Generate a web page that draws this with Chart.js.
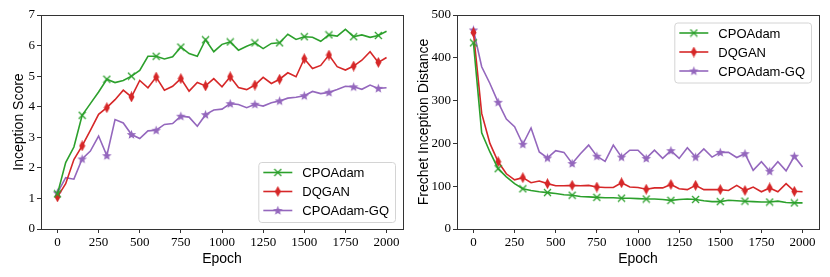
<!DOCTYPE html>
<html>
<head>
<meta charset="utf-8">
<script src="https://cdn.jsdelivr.net/npm/chart.js@4.4.0/dist/chart.umd.min.js"></script>
<style>
  body { margin: 0; background: #fff; }
  #wrap { position: relative; width: 830px; height: 277px; }
  .box { position: absolute; top: 0; width: 415px; height: 277px; }
</style>
</head>
<body>
<div id="wrap">
  <div class="box" style="left:0"><canvas id="isChart" width="415" height="277"></canvas></div>
  <div class="box" style="left:415px"><canvas id="fidChart" width="415" height="277"></canvas></div>
</div>
<script>
// --- datos ---
const epochs = [0, 50, 100, 150, 200, 250, 300, 350, 400, 450, 500, 550, 600, 650, 700, 750, 800, 850, 900, 950,
  1000, 1050, 1100, 1150, 1200, 1250, 1300, 1350, 1400, 1450, 1500, 1550, 1600, 1650, 1700, 1750, 1800, 1850, 1900, 1950, 2000];
const xTicks = [0, 250, 500, 750, 1000, 1250, 1500, 1750, 2000];
const isTicks = [0, 1, 2, 3, 4, 5, 6, 7];
const fidTicks = [0, 100, 200, 300, 400, 500];
const seriesNames = ['CPOAdam', 'DQGAN', 'CPOAdam-GQ'];

// Inception Score
const isCPOAdam = [1.15, 2.17, 2.68, 3.72, 4.1, 4.48, 4.9, 4.79, 4.86, 5.0, 5.19, 5.65, 5.65, 5.56, 5.63, 5.95, 5.74, 5.65, 6.19, 5.8,
  6.04, 6.12, 5.85, 5.98, 6.09, 5.9, 6.07, 6.09, 6.37, 6.2, 6.29, 6.27, 6.14, 6.35, 6.31, 6.53, 6.29, 6.35, 6.27, 6.33, 6.47];
const isDQGAN = [1.05, 1.48, 2.27, 2.72, 3.23, 3.75, 3.97, 4.23, 4.54, 4.32, 4.86, 4.62, 4.97, 4.54, 4.67, 4.92, 4.51, 4.79, 4.68, 4.92,
  4.65, 4.98, 4.63, 4.56, 4.71, 4.96, 4.76, 4.9, 5.11, 4.98, 5.57, 5.25, 5.35, 5.69, 5.31, 5.2, 5.33, 5.52, 5.8, 5.45, 5.61];
const isCPOAdamGQ = [1.18, 1.68, 1.63, 2.29, 2.55, 3.04, 2.4, 3.58, 3.47, 3.09, 2.96, 3.21, 3.23, 3.42, 3.45, 3.69, 3.66, 3.36, 3.74, 3.89,
  3.92, 4.1, 4.07, 3.97, 4.08, 4.02, 4.13, 4.19, 4.28, 4.31, 4.36, 4.5, 4.43, 4.47, 4.56, 4.67, 4.65, 4.57, 4.71, 4.6, 4.62];

// Frechet Inception Distance
const fidCPOAdam = [435, 225, 180, 141, 122, 106, 94, 90, 87, 85, 83, 80, 79, 76, 75, 74, 73, 73, 72, 72,
  71, 70, 70, 69, 67, 69, 70, 69, 66, 64, 64, 67, 66, 65, 64, 63, 63, 65, 62, 61, 61];
const fidDQGAN = [459, 270, 200, 157, 129, 115, 120, 108, 112, 106, 101, 101, 102, 101, 102, 98, 97, 97, 108, 98,
  97, 93, 96, 96, 104, 94, 92, 102, 92, 92, 92, 90, 102, 90, 98, 87, 96, 87, 106, 88, 87];
const fidCPOAdamGQ = [465, 379, 340, 296, 257, 239, 198, 236, 180, 166, 183, 179, 153, 176, 196, 170, 158, 196, 168, 184,
  184, 165, 184, 165, 183, 165, 190, 168, 187, 168, 179, 179, 167, 176, 137, 157, 135, 157, 136, 170, 145];

const colors = ['#2ca02c', '#d62728', '#9467bd'];

// --- marcadores ---
function markerCross(color) {
  const c = document.createElement('canvas'); c.width = 9; c.height = 9;
  const g = c.getContext('2d');
  g.strokeStyle = color; g.lineWidth = 1.3;
  g.beginPath(); g.moveTo(1, 1); g.lineTo(8, 8); g.moveTo(8, 1); g.lineTo(1, 8); g.stroke();
  return c;
}
function markerDiamond(color) {
  const c = document.createElement('canvas'); c.width = 7; c.height = 11;
  const g = c.getContext('2d');
  g.fillStyle = color;
  g.beginPath(); g.moveTo(3.5, 0); g.lineTo(6.5, 5.5); g.lineTo(3.5, 11); g.lineTo(0.5, 5.5); g.closePath(); g.fill();
  return c;
}
function markerStar(color) {
  const c = document.createElement('canvas'); c.width = 11; c.height = 11;
  const g = c.getContext('2d');
  g.fillStyle = color;
  g.beginPath();
  for (let i = 0; i < 10; i++) {
    const r = i % 2 === 0 ? 5 : 2.1;
    const a = -Math.PI / 2 + i * Math.PI / 5;
    const px = 5.5 + r * Math.cos(a), py = 5.8 + r * Math.sin(a);
    if (i === 0) g.moveTo(px, py); else g.lineTo(px, py);
  }
  g.closePath(); g.fill();
  return c;
}
const markers = [markerCross(colors[0]), markerDiamond(colors[1]), markerStar(colors[2])];

function makeDataset(i, values) {
  return {
    label: seriesNames[i],
    data: epochs.map((e, k) => ({ x: e, y: values[k] })),
    borderColor: colors[i],
    backgroundColor: colors[i],
    borderWidth: 1.6,
    tension: 0,
    pointStyle: markers[i],
    pointRadius: ctx => (ctx.dataIndex % 3 === 0 ? 4 : 0),
    pointHoverRadius: 0
  };
}

// marco y leyenda
const framePlugin = {
  id: 'frame',
  afterDraw(chart) {
    const { ctx, chartArea: a } = chart;
    ctx.save();
    ctx.strokeStyle = '#333';
    ctx.lineWidth = 1;
    ctx.strokeRect(Math.round(a.left) + 0.5, Math.round(a.top) + 0.5, Math.round(a.right - a.left), Math.round(a.bottom - a.top));
    ctx.restore();
  }
};

const boxLegend = {
  id: 'boxLegend',
  afterDraw(chart, args, opts) {
    const { ctx, chartArea: a } = chart;
    ctx.save();
    ctx.font = '13px "Liberation Sans"';
    const names = chart.data.datasets.map(d => d.label);
    const tw = Math.max(...names.map(n => ctx.measureText(n).width));
    const w = 44 + tw + 6, h = 60;
    const x = a.right - 8 - w;
    const y = opts.corner === 'br' ? a.bottom - 7 - h : a.top + 7.5;
    ctx.beginPath();
    ctx.roundRect(x + 0.5, y + 0.5, w, h, 3);
    ctx.fillStyle = 'rgba(255,255,255,0.8)';
    ctx.fill();
    ctx.strokeStyle = '#d4d4d4';
    ctx.lineWidth = 1;
    ctx.stroke();
    chart.data.datasets.forEach((ds, i) => {
      const ly = y + 10.5 + i * 19;
      ctx.strokeStyle = ds.borderColor;
      ctx.lineWidth = ds.borderWidth;
      ctx.beginPath(); ctx.moveTo(x + 5, ly); ctx.lineTo(x + 34, ly); ctx.stroke();
      const m = markers[i];
      ctx.drawImage(m, x + 19.5 - m.width / 2, ly - m.height / 2);
      ctx.fillStyle = '#000';
      ctx.textBaseline = 'middle';
      ctx.fillText(ds.label, x + 44, ly + 1);
    });
    ctx.restore();
  }
};

const tickFont = { family: '"Liberation Serif", "DejaVu Serif", serif', size: 13 };
const titleFont = { family: '"Liberation Sans", Arial, sans-serif', size: 14 };

function axisOptions(yTicks, yMin, yMax, yTitle, yWidth, yTitlePad) {
  return {
    x: {
      type: 'linear', min: -100, max: 2100,
      afterBuildTicks: s => { s.ticks = xTicks.map(v => ({ value: v })); },
      afterFit: s => { s.height = 48; },
      grid: { drawOnChartArea: false, tickLength: 4, color: '#333' },
      border: { display: true, color: '#333' },
      ticks: { color: '#000', font: tickFont, padding: 2, maxRotation: 0, autoSkip: false, callback: v => String(v) },
      title: { display: true, text: 'Epoch', color: '#000', font: titleFont, padding: { top: 0, bottom: 9 } }
    },
    y: {
      type: 'linear', min: yMin, max: yMax,
      afterBuildTicks: s => { s.ticks = yTicks.map(v => ({ value: v })); },
      afterFit: s => { s.width = yWidth; },
      grid: { drawOnChartArea: false, tickLength: 4, color: '#333' },
      border: { display: true, color: '#333' },
      ticks: { color: '#000', font: tickFont, padding: 2, autoSkip: false, callback: v => String(v) },
      title: { display: true, text: yTitle, color: '#000', font: titleFont, padding: { top: yTitlePad, bottom: 0 } }
    }
  };
}

function renderChart(id, datasets, scales, pad, corner) {
  new Chart(document.getElementById(id).getContext('2d'), {
    type: 'line',
    data: { datasets: datasets },
    options: {
      responsive: false,
      animation: false,
      layout: { padding: pad },
      plugins: { legend: { display: false }, tooltip: { enabled: false }, boxLegend: { corner: corner } },
      scales: scales
    },
    plugins: [framePlugin, boxLegend]
  });
}

window.onload = () => {
  renderChart('isChart',
    [makeDataset(0, isCPOAdam), makeDataset(1, isDQGAN), makeDataset(2, isCPOAdamGQ)],
    axisOptions(isTicks, 0, 7, 'Inception Score', 41, 11),
    { left: 0, top: 15, right: 12, bottom: 0 }, 'br');
  renderChart('fidChart',
    [makeDataset(0, fidCPOAdam), makeDataset(1, fidDQGAN), makeDataset(2, fidCPOAdamGQ)],
    axisOptions(fidTicks, 0, 500, 'Frechet Inception Distance', 42, 1),
    { left: 0, top: 15, right: 11, bottom: 0 }, 'tr');
};
</script>
</body>
</html>
